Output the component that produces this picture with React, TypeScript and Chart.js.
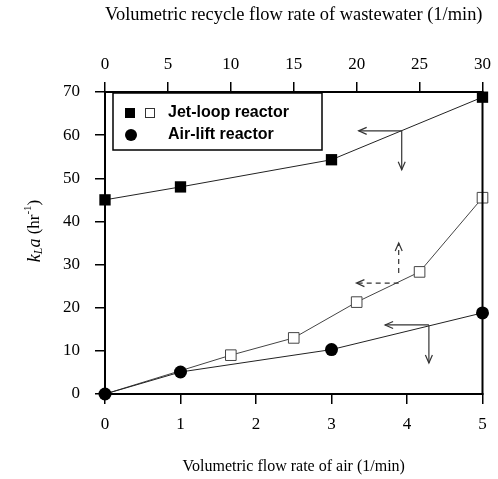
import React, { useEffect, useRef } from 'react';
import { Chart, registerables } from 'chart.js';
Chart.register(...registerables);

// bottom axis: volumetric flow rate of air (1/min)
const airTicks = [0, 1, 2, 3, 4, 5];
// top axis: volumetric recycle flow rate of wastewater (1/min)
const recycleTicks = [0, 5, 10, 15, 20, 25, 30];
const kLaTicks = [0, 10, 20, 30, 40, 50, 60, 70];

// Jet-loop reactor vs air flow (filled squares, bottom axis)
const jetAirX = [0, 1, 3, 5];
const jetAirY = [45, 48, 54.3, 68.8];
// Jet-loop reactor vs recycle flow (open squares, top axis)
const jetRecX = [0, 10, 15, 20, 25, 30];
const jetRecY = [0, 9, 13, 21.3, 28.3, 45.5];
// Air-lift reactor vs air flow (filled circles, bottom axis)
const airLiftX = [0, 1, 3, 5];
const airLiftY = [0, 5.1, 10.3, 18.8];

// annotation arrows, in bottom-axis / left-axis data units: [x, y, leftTo, verticalTo]
const arrowJetAir = [3.93, 61, 3.36, 52];
const arrowJetRec = [3.89, 25.7, 3.33, 35];
const arrowAirLift = [4.29, 16, 3.71, 7.2];

const SERIF = '"Liberation Serif", "Times New Roman", serif';
const SANS = '"Liberation Sans", Arial, sans-serif';

function drawHead(ctx: CanvasRenderingContext2D, x: number, y: number, dir: string) {
  const L = 8, W = 3.5;
  ctx.beginPath();
  if (dir === 'left') {
    ctx.moveTo(x + L, y - W); ctx.lineTo(x, y); ctx.lineTo(x + L, y + W);
  } else if (dir === 'down') {
    ctx.moveTo(x - W, y - L); ctx.lineTo(x, y); ctx.lineTo(x + W, y - L);
  } else {
    ctx.moveTo(x - W, y + L); ctx.lineTo(x, y); ctx.lineTo(x + W, y + L);
  }
  ctx.stroke();
}

const overlay = {
  id: 'overlay',
  afterDraw(chart: any) {
    const ctx: CanvasRenderingContext2D = chart.ctx;
    const { left, right, top, bottom } = chart.chartArea;
    const xs = chart.scales.x;
    const ys = chart.scales.y;
    ctx.save();
    // frame
    ctx.strokeStyle = '#000';
    ctx.lineWidth = 2;
    ctx.strokeRect(left, top, right - left, bottom - top);

    // arrows
    const arrows: [number[], boolean, string][] = [
      [arrowJetAir, false, 'down'],
      [arrowJetRec, true, 'up'],
      [arrowAirLift, false, 'down'],
    ];
    arrows.forEach(([a, dashed, vdir]) => {
      const x0 = xs.getPixelForValue(a[0]);
      const y0 = ys.getPixelForValue(a[1]);
      const xl = xs.getPixelForValue(a[2]);
      const yv = ys.getPixelForValue(a[3]);
      ctx.strokeStyle = '#333';
      ctx.lineWidth = 1.2;
      ctx.setLineDash(dashed ? [5, 4] : []);
      ctx.beginPath();
      ctx.moveTo(x0, y0); ctx.lineTo(xl, y0);
      ctx.stroke();
      ctx.beginPath();
      const vy0 = dashed ? y0 - 10 : y0;
      ctx.moveTo(x0, vy0); ctx.lineTo(x0, yv);
      ctx.stroke();
      ctx.setLineDash([]);
      drawHead(ctx, xl, y0, 'left');
      drawHead(ctx, x0, yv, vdir);
    });

    // legend
    const bx = left + 8, by = top + 1, bw = 209, bh = 57;
    ctx.fillStyle = '#fff';
    ctx.fillRect(bx, by, bw, bh);
    ctx.strokeStyle = '#000';
    ctx.lineWidth = 1.5;
    ctx.strokeRect(bx, by, bw, bh);
    ctx.fillStyle = '#000';
    ctx.fillRect(bx + 12, by + 15, 10, 10);
    ctx.lineWidth = 1;
    ctx.strokeStyle = '#333';
    ctx.strokeRect(bx + 32.5, by + 15.5, 9, 9);
    ctx.beginPath();
    ctx.arc(bx + 18, by + 42, 6, 0, Math.PI * 2);
    ctx.fill();
    ctx.font = 'bold 16px ' + SANS;
    ctx.textBaseline = 'middle';
    ctx.textAlign = 'left';
    ctx.fillText('Jet-loop reactor', bx + 55, by + 20);
    ctx.fillText('Air-lift reactor', bx + 55, by + 42);

    // y axis title: kLa (hr-1)
    ctx.translate(35, (top + bottom) / 2 - 12);
    ctx.rotate(-Math.PI / 2);
    const parts: [string, string, number][] = [
      ['k', 'italic 18px ' + SERIF, 0],
      ['L', 'italic 12px ' + SERIF, 4],
      ['a', 'italic 18px ' + SERIF, 0],
      [' (hr', '17px ' + SERIF, 0],
      ['-1', '11px ' + SERIF, -7],
      [')', '17px ' + SERIF, 0],
    ];
    let w = 0;
    parts.forEach(([t, f]) => { ctx.font = f; w += ctx.measureText(t).width; });
    let cx = -w / 2;
    ctx.textAlign = 'left';
    ctx.textBaseline = 'middle';
    parts.forEach(([t, f, dy]) => {
      ctx.font = f;
      ctx.fillText(t, cx, dy);
      cx += ctx.measureText(t).width;
    });
    ctx.restore();
  },
};

export default function App() {
  const ref = useRef<HTMLCanvasElement>(null);
  useEffect(() => {
    const tickGrid = {
      display: true,
      drawOnChartArea: false,
      drawTicks: true,
      tickLength: 10,
      color: '#000',
      lineWidth: 1.5,
    };
    const chart = new Chart(ref.current!, {
      type: 'scatter',
      data: {
        datasets: [
          {
            label: 'Air-lift reactor',
            data: airLiftX.map((x, i) => ({ x, y: airLiftY[i] })),
            xAxisID: 'x',
            showLine: true,
            borderColor: '#222',
            borderWidth: 1,
            backgroundColor: '#000',
            pointStyle: 'circle',
            pointRadius: 6.5,
            pointBorderWidth: 0,
            clip: false,
          } as any,
          {
            label: 'Jet-loop reactor (recycle)',
            data: jetRecX.map((x, i) => ({ x, y: jetRecY[i] })),
            xAxisID: 'x2',
            showLine: true,
            borderColor: '#444',
            borderWidth: 1,
            pointBackgroundColor: '#fff',
            pointBorderColor: '#444',
            pointStyle: 'rect',
            pointRadius: [0, 7.5, 7.5, 7.5, 7.5, 7.5],
            pointBorderWidth: 1,
            clip: false,
          } as any,
          {
            label: 'Jet-loop reactor (air)',
            data: jetAirX.map((x, i) => ({ x, y: jetAirY[i] })),
            xAxisID: 'x',
            showLine: true,
            borderColor: '#222',
            borderWidth: 1,
            backgroundColor: '#000',
            pointStyle: 'rect',
            pointRadius: 8,
            pointBorderWidth: 0,
            clip: false,
          } as any,
        ],
      },
      options: {
        animation: false,
        responsive: false,
        layout: { padding: { right: 15, left: 0, top: 0, bottom: 0 } },
        plugins: { legend: { display: false }, tooltip: { enabled: false } },
        scales: {
          x: {
            type: 'linear',
            position: 'bottom',
            min: 0,
            max: 5,
            afterBuildTicks: (s: any) => { s.ticks = airTicks.map((v) => ({ value: v })); },
            afterFit: (s: any) => { s.height = 85; },
            grid: tickGrid,
            border: { display: true, color: '#000', width: 2 },
            ticks: { color: '#000', font: { family: SERIF, size: 17 }, padding: 10 },
            title: {
              display: true,
              text: 'Volumetric flow rate of air (1/min)',
              color: '#000',
              font: { family: SERIF, size: 16 },
              padding: { top: 0, bottom: 3 },
            },
          },
          x2: {
            type: 'linear',
            position: 'top',
            min: 0,
            max: 30,
            afterBuildTicks: (s: any) => { s.ticks = recycleTicks.map((v) => ({ value: v })); },
            afterFit: (s: any) => { s.height = 92; },
            grid: tickGrid,
            border: { display: true, color: '#000', width: 2 },
            ticks: { color: '#000', font: { family: SERIF, size: 17 }, padding: 7 },
            title: {
              display: true,
              text: 'Volumetric recycle flow rate of wastewater (1/min)',
              color: '#000',
              font: { family: SERIF, size: 19.5 },
              padding: { top: 3, bottom: 0 },
            },
          },
          y: {
            type: 'linear',
            position: 'left',
            min: 0,
            max: 70,
            afterBuildTicks: (s: any) => { s.ticks = kLaTicks.map((v) => ({ value: v })); },
            afterFit: (s: any) => { s.width = 105; },
            grid: tickGrid,
            border: { display: true, color: '#000', width: 2 },
            ticks: { color: '#000', font: { family: SERIF, size: 17 }, padding: 15 },
          },
        },
      } as any,
      plugins: [overlay],
    });
    return () => chart.destroy();
  }, []);
  return (
    <div style={{ position: 'fixed', left: 0, top: 0, width: 498, height: 479, background: '#fff' }}>
      <canvas ref={ref} width={498} height={479} />
    </div>
  );
}
